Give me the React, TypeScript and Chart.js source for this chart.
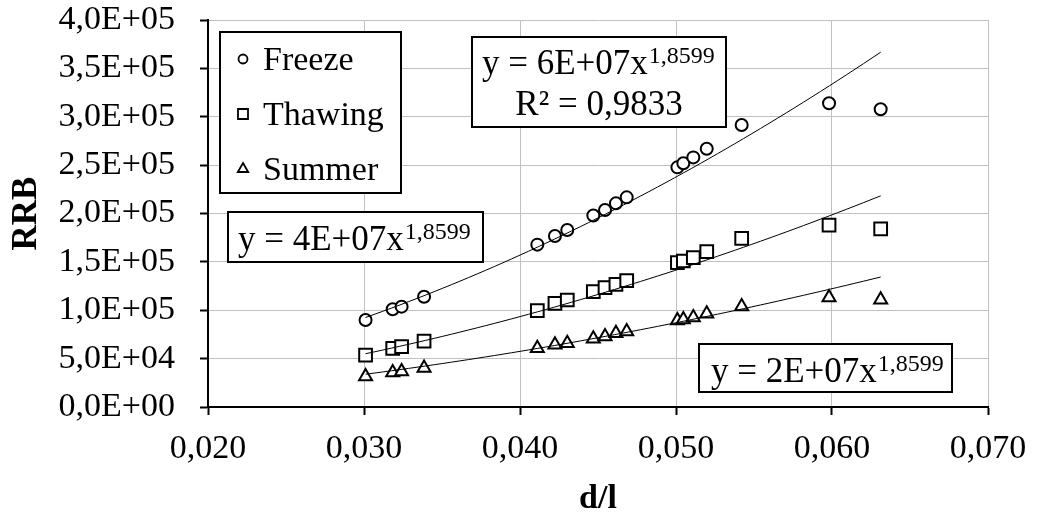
import React, { useEffect, useRef } from 'react';
import { Chart, registerables } from 'chart.js';

Chart.register(...registerables);

// d/l values (shared by the three series)
const dl = [0.0301, 0.03184, 0.03241, 0.03385, 0.04111, 0.04224, 0.04303, 0.0447, 0.04545, 0.04615, 0.04684, 0.05009, 0.05047, 0.05111, 0.05197, 0.05421, 0.05981, 0.06312];
const freeze = [89900, 101000, 103700, 114000, 167800, 176700, 183000, 198000, 203600, 210500, 216700, 247700, 251900, 258000, 267000, 291500, 313900, 307700];
const thawing = [53700, 60700, 62300, 68200, 99500, 107200, 110600, 119200, 123300, 126800, 130600, 149200, 150900, 154300, 160500, 174400, 188100, 184000];
const summer = [31500, 35700, 36700, 40200, 60800, 64300, 66000, 70500, 72900, 76300, 78100, 89500, 90500, 92500, 96400, 103900, 113200, 110800];

const seriesLabels = ['Freeze', 'Thawing', 'Summer'];
const seriesStyles = ['circle', 'rect', 'triangle'];

// power trendlines y = a * x^b, as drawn on the picture
const trendA = [6.25e7, 3.72e7, 2.29e7];
const trendB = 1.8599;
const trendRange = [0.0301, 0.06312];
const equationTexts = [
  { main: 'y = 6E+07x', sup: '1,8599', r2: 'R² = 0,9833' },
  { main: 'y = 4E+07x', sup: '1,8599' },
  { main: 'y = 2E+07x', sup: '1,8599' },
];

const X_TICK_MIN = 0.02;
const X_TICK_MAX = 0.07;
const X_STEP = 0.01;
const Y_TICK_MIN = 0;
const Y_TICK_MAX = 400000;
const Y_STEP = 50000;

const FONT = '"Liberation Serif", "Times New Roman", serif';

function sciLabel(v: number): string {
  if (Math.abs(v) < 1e-9) return '0,0E+00';
  const e = Math.floor(Math.log10(Math.abs(v)) + 1e-9);
  const m = v / Math.pow(10, e);
  const es = (e >= 0 ? '+' : '-') + String(Math.abs(e)).padStart(2, '0');
  return m.toFixed(1).replace('.', ',') + 'E' + es;
}

function trendPoints(a: number) {
  const pts: { x: number; y: number }[] = [];
  const n = 60;
  for (let i = 0; i <= n; i++) {
    const x = trendRange[0] + ((trendRange[1] - trendRange[0]) * i) / n;
    pts.push({ x, y: a * Math.pow(x, trendB) });
  }
  return pts;
}

function drawMarker(ctx: CanvasRenderingContext2D, style: string, x: number, y: number) {
  ctx.beginPath();
  if (style === 'circle') {
    ctx.arc(x, y, 4.5, 0, Math.PI * 2);
  } else if (style === 'rect') {
    ctx.rect(x - 5, y - 5, 10, 10);
  } else {
    const r = 6;
    ctx.moveTo(x, y - r);
    ctx.lineTo(x + r * Math.sin((2 * Math.PI) / 3), y - r * Math.cos((2 * Math.PI) / 3));
    ctx.lineTo(x + r * Math.sin((4 * Math.PI) / 3), y - r * Math.cos((4 * Math.PI) / 3));
    ctx.closePath();
  }
  ctx.fillStyle = '#fff';
  ctx.fill();
  ctx.lineWidth = 1.8;
  ctx.strokeStyle = '#000';
  ctx.stroke();
}

function drawFrame(ctx: CanvasRenderingContext2D, x: number, y: number, w: number, h: number) {
  ctx.fillStyle = '#fff';
  ctx.fillRect(x, y, w, h);
  ctx.lineWidth = 2;
  ctx.strokeStyle = '#000';
  ctx.strokeRect(x, y, w, h);
}

function drawEquation(ctx: CanvasRenderingContext2D, main: string, sup: string, x: number, baseline: number) {
  ctx.fillStyle = '#000';
  ctx.textAlign = 'left';
  ctx.textBaseline = 'alphabetic';
  ctx.font = `35px ${FONT}`;
  ctx.fillText(main, x, baseline);
  const w = ctx.measureText(main).width;
  ctx.font = `24px ${FONT}`;
  ctx.fillText(sup, x + w + 1, baseline - 11);
}

const annotationPlugin = {
  id: 'annotationBoxes',
  afterDatasetsDraw(chart: any) {
    const ctx: CanvasRenderingContext2D = chart.ctx;
    ctx.save();
    // legend box
    drawFrame(ctx, 220, 32, 181, 161);
    const legendBaselines = [70, 125, 180];
    seriesLabels.forEach((lab, i) => {
      drawMarker(ctx, seriesStyles[i], 243, legendBaselines[i] - 11);
      ctx.fillStyle = '#000';
      ctx.font = `34px ${FONT}`;
      ctx.textAlign = 'left';
      ctx.textBaseline = 'alphabetic';
      ctx.fillText(lab, 263, legendBaselines[i]);
    });

    // Freeze equation
    drawFrame(ctx, 472, 37, 254, 90);
    drawEquation(ctx, equationTexts[0].main, equationTexts[0].sup, 482, 74);
    ctx.font = `35px ${FONT}`;
    ctx.textAlign = 'center';
    ctx.fillText(equationTexts[0].r2 as string, 599, 115);

    // Thawing equation
    drawFrame(ctx, 228, 212, 255, 50);
    drawEquation(ctx, equationTexts[1].main, equationTexts[1].sup, 238, 250);

    // Summer equation
    drawFrame(ctx, 699, 344, 253, 48);
    drawEquation(ctx, equationTexts[2].main, equationTexts[2].sup, 711, 382);
    ctx.restore();
  },
};

export default function App() {
  const ref = useRef<HTMLCanvasElement | null>(null);

  useEffect(() => {
    if (!ref.current) return;
    const seriesValues = [freeze, thawing, summer];
    const pointRadius = [6, 9, 7.5];

    const scatterSets = seriesValues.map((vals, i) => ({
      type: 'scatter' as const,
      label: seriesLabels[i],
      data: vals.map((v, j) => ({ x: dl[j], y: v })),
      pointStyle: seriesStyles[i],
      pointRadius: pointRadius[i],
      pointBackgroundColor: '#fff',
      pointBorderColor: '#000',
      pointBorderWidth: 2,
      showLine: false,
      order: 2,
    }));
    const trendSets = trendA.map((a, i) => ({
      type: 'line' as const,
      label: seriesLabels[i] + ' trend',
      data: trendPoints(a),
      borderColor: '#000',
      borderWidth: 1,
      pointRadius: 0,
      fill: false,
      tension: 0,
      order: 1,
    }));

    const chart = new Chart(ref.current, {
      type: 'scatter',
      data: { datasets: [...trendSets, ...scatterSets] as any },
      options: {
        responsive: false,
        animation: false,
        layout: { padding: { top: 20, right: 49, left: 0, bottom: 0 } },
        plugins: {
          legend: { display: false },
          tooltip: { enabled: false },
        },
        scales: {
          x: {
            type: 'linear',
            min: X_TICK_MIN,
            max: X_TICK_MAX,
            afterFit: (s: any) => {
              s.height = 106;
              s.paddingLeft = 0;
              s.paddingRight = 0;
            },
            ticks: {
              stepSize: X_STEP,
              color: '#000',
              padding: 14,
              font: { family: FONT, size: 34 },
              callback: (v: any) => Number(v).toFixed(3).replace('.', ','),
            },
            grid: { color: '#c0c0c0', lineWidth: 1, tickColor: '#000', tickLength: 8, tickWidth: 2 },
            border: { color: '#000', width: 2 },
            title: {
              display: true,
              text: 'd/l',
              color: '#000',
              font: { family: FONT, size: 34, weight: 'bold', lineHeight: 0.8 },
              padding: { top: 0, bottom: 0 },
            },
          },
          y: {
            type: 'linear',
            min: Y_TICK_MIN,
            max: Y_TICK_MAX,
            afterFit: (s: any) => {
              s.width = 208;
              s.paddingTop = 0;
              s.paddingBottom = 0;
            },
            ticks: {
              stepSize: Y_STEP,
              color: '#000',
              padding: 25,
              font: { family: FONT, size: 34 },
              callback: (v: any) => sciLabel(Number(v)),
            },
            grid: { color: '#c0c0c0', lineWidth: 1, tickColor: '#000', tickLength: 8, tickWidth: 2 },
            border: { color: '#000', width: 2 },
            title: {
              display: true,
              text: 'RRB',
              color: '#000',
              font: { family: FONT, size: 35, weight: 'bold', lineHeight: 1.2 },
              padding: { top: 6, bottom: 0 },
            },
          },
        },
      } as any,
      plugins: [annotationPlugin],
    });
    return () => chart.destroy();
  }, []);

  return (
    <div style={{ position: 'absolute', left: 0, top: 0, width: 1037, height: 513, background: '#fff' }}>
      <canvas ref={ref} width={1037} height={513} style={{ display: 'block' }} />
    </div>
  );
}
